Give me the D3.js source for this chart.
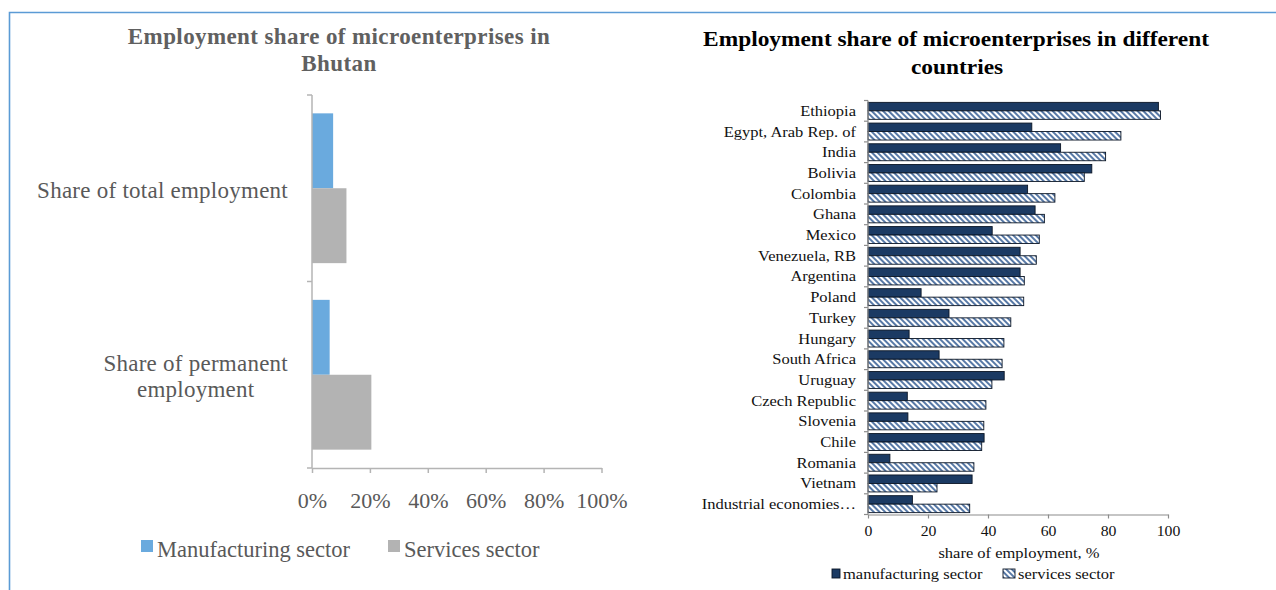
<!DOCTYPE html>
<html>
<head>
<meta charset="utf-8">
<script src="https://cdn.jsdelivr.net/npm/d3@7"></script>
<style>
  html, body { margin: 0; padding: 0; background: #fff; }
  svg { display: block; }
</style>
</head>
<body>
<svg id="chart" width="1276" height="590"></svg>
<script>
// ---- Bhutan: share of employment in microenterprises ----
const bhutanCategories = ["Share of total employment", "Share of permanent employment"];
const bhutanSeries = ["Manufacturing sector", "Services sector"];
const bhutanManufacturing = [0.073, 0.061];
const bhutanServices = [0.119, 0.205];
const bhutanTicks = [0, 0.2, 0.4, 0.6, 0.8, 1];

// ---- Cross-country comparison (share of employment, %) ----
const countries = [
  "Ethiopia", "Egypt, Arab Rep. of", "India", "Bolivia", "Colombia", "Ghana",
  "Mexico", "Venezuela, RB", "Argentina", "Poland", "Turkey", "Hungary",
  "South Africa", "Uruguay", "Czech Republic", "Slovenia", "Chile", "Romania",
  "Vietnam", "Industrial economies…"
];
const manufacturingShare = [96.8, 54.6, 64.2, 74.6, 53.2, 55.7, 41.4, 50.7, 50.7, 17.7,
                            27.0, 13.7, 23.7, 45.4, 13.1, 13.3, 38.7, 7.3, 34.7, 14.8];
const servicesShare = [97.5, 84.3, 79.2, 72.1, 62.3, 58.8, 57.1, 56.1, 52.1, 51.9,
                       47.6, 45.3, 44.7, 41.3, 39.3, 38.6, 37.9, 35.3, 23.0, 33.9];
const countrySeries = ["manufacturing sector", "services sector"];
const countryTicks = [0, 20, 40, 60, 80, 100];

const svg = d3.select("#chart");
const serif = "'Liberation Serif', 'Times New Roman', serif";

// hatch fill for the services series
const defs = svg.append("defs");
const hatch = defs.append("pattern")
  .attr("id", "hatch")
  .attr("patternUnits", "userSpaceOnUse")
  .attr("width", 4).attr("height", 4)
  .attr("patternTransform", "rotate(-45)");
hatch.append("rect").attr("width", 4).attr("height", 4).attr("fill", "#ffffff");
hatch.append("line").attr("x1", 1).attr("y1", -1).attr("x2", 1).attr("y2", 5)
  .attr("stroke", "#4f72a2").attr("stroke-width", 1.9);

// frame lines
svg.append("path")
  .attr("d", "M9.5,590 V12.5 H1276")
  .attr("fill", "none").attr("stroke", "#5b9bd5").attr("stroke-width", 1.6);

// =================== Left chart ===================
(function () {
  const grey = "#595959";
  const axisCol = "#b4b4b4";
  const x = d3.scaleLinear().domain([0, 1]).range([312, 601.5]);
  const y = d3.scaleBand().domain(bhutanCategories).range([95, 468]).padding(0);
  const ys = d3.scaleBand().domain(bhutanSeries).range([0, y.bandwidth()])
    .paddingInner(0).paddingOuter(0.245);
  const color = d3.scaleOrdinal().domain(bhutanSeries).range(["#6aaade", "#b3b3b3"]);

  const g = svg.append("g");

  // title
  const title = g.append("text")
    .attr("text-anchor", "middle")
    .attr("font-family", serif).attr("font-weight", "bold")
    .attr("font-size", 23).attr("letter-spacing", 0.4)
    .attr("fill", "#606060");
  title.append("tspan").attr("x", 339).attr("y", 44).text("Employment share of microenterprises in");
  title.append("tspan").attr("x", 339).attr("y", 71).text("Bhutan");

  // bars
  const rows = bhutanCategories.map((c, i) => ({
    category: c,
    values: [
      { series: bhutanSeries[0], value: bhutanManufacturing[i] },
      { series: bhutanSeries[1], value: bhutanServices[i] }
    ]
  }));
  const grp = g.selectAll("g.cat").data(rows).join("g")
    .attr("class", "cat")
    .attr("transform", d => `translate(0,${y(d.category)})`);
  grp.selectAll("rect").data(d => d.values).join("rect")
    .attr("x", x(0))
    .attr("y", d => ys(d.series))
    .attr("width", d => x(d.value) - x(0))
    .attr("height", ys.bandwidth())
    .attr("fill", d => color(d.series));

  // x axis
  const xAxis = g.append("g")
    .attr("transform", `translate(0,${y.range()[1]})`)
    .call(d3.axisBottom(x).tickValues(bhutanTicks).tickFormat(d3.format(".0%")).tickSize(5).tickSizeOuter(0));
  xAxis.select(".domain").attr("stroke", axisCol).attr("stroke-width", 1.5);
  xAxis.selectAll(".tick line").attr("stroke", axisCol).attr("stroke-width", 1.5);
  xAxis.selectAll(".tick text")
    .attr("y", 40).attr("dy", 0)
    .attr("font-family", serif).attr("font-size", 22).attr("fill", grey);

  // y axis line with ticks at category boundaries
  const yAxis = g.append("g");
  yAxis.append("line")
    .attr("x1", x(0)).attr("x2", x(0))
    .attr("y1", y.range()[0]).attr("y2", y.range()[1])
    .attr("stroke", axisCol).attr("stroke-width", 1.5);
  const bounds = bhutanCategories.map(c => y(c)).concat([y.range()[1]]);
  yAxis.selectAll("line.tick").data(bounds).join("line")
    .attr("class", "tick")
    .attr("x1", x(0) - 5).attr("x2", x(0))
    .attr("y1", d => d).attr("y2", d => d)
    .attr("stroke", axisCol).attr("stroke-width", 1.5);

  // category labels, wrapped and centred as a block, right edge near the axis
  const labelRight = 288, maxW = 255, lineH = 26;
  bhutanCategories.forEach(c => {
    const t = g.append("text")
      .attr("font-family", serif).attr("font-size", 23).attr("fill", grey)
      .attr("text-anchor", "middle").attr("letter-spacing", 0.25);
    const words = c.split(" ");
    const lines = [];
    let cur = [];
    const probe = g.append("text").attr("font-family", serif).attr("font-size", 23)
      .attr("letter-spacing", 0.25);
    words.forEach(w => {
      const test = cur.concat([w]).join(" ");
      probe.text(test);
      if (probe.node().getComputedTextLength() > maxW && cur.length) {
        lines.push(cur.join(" "));
        cur = [w];
      } else {
        cur.push(w);
      }
    });
    lines.push(cur.join(" "));
    const widths = lines.map(l => { probe.text(l); return probe.node().getComputedTextLength(); });
    probe.remove();
    const blockW = d3.max(widths);
    const cx = labelRight - blockW / 2;
    const cy = y(c) + y.bandwidth() / 2 + 2;
    const y0 = cy - (lines.length - 1) * lineH / 2;
    lines.forEach((l, i) => {
      t.append("tspan").attr("x", cx).attr("y", y0 + i * lineH).attr("dy", "0.33em").text(l);
    });
  });

  // legend
  const leg = g.append("g");
  const legX = [141, 388];
  bhutanSeries.forEach((s, i) => {
    leg.append("rect").attr("x", legX[i]).attr("y", 540).attr("width", 12).attr("height", 12)
      .attr("fill", color(s));
    leg.append("text").attr("x", legX[i] + 16).attr("y", 557)
      .attr("font-family", serif).attr("font-size", 22.5).attr("fill", grey).text(s);
  });
})();

// =================== Right chart ===================
(function () {
  const ink = "#111111";
  const axisCol = "#8c8c8c";
  const dark = "#1b3a63";
  const sx = 1.1; // horizontal text stretch
  const x = d3.scaleLinear().domain([0, 100]).range([868, 1168]);
  const y = d3.scaleBand().domain(countries).range([100.5, 514.5]).padding(0);
  const ys = d3.scaleBand().domain(countrySeries).range([0, y.bandwidth()])
    .paddingInner(0).paddingOuter(0.22);
  const fill = d3.scaleOrdinal().domain(countrySeries).range([dark, "url(#hatch)"]);

  const g = svg.append("g");

  const stretchedText = (parent, tx, ty, str, opts) => {
    const gg = parent.append("g").attr("transform", `translate(${tx},${ty}) scale(${opts.sx || sx},1)`);
    return gg.append("text")
      .attr("font-family", serif)
      .attr("font-size", opts.size)
      .attr("font-weight", opts.weight || "normal")
      .attr("text-anchor", opts.anchor || "start")
      .attr("fill", opts.fill || ink)
      .text(str);
  };

  // title
  stretchedText(g, 956, 46, "Employment share of microenterprises in different",
    { size: 20, weight: "bold", anchor: "middle", fill: "#000", sx: 1.17 });
  stretchedText(g, 957, 74, "countries",
    { size: 20, weight: "bold", anchor: "middle", fill: "#000", sx: 1.17 });

  // bars
  const rows = countries.map((c, i) => ({
    country: c,
    values: [
      { series: countrySeries[0], value: manufacturingShare[i] },
      { series: countrySeries[1], value: servicesShare[i] }
    ]
  }));
  const grp = g.selectAll("g.country").data(rows).join("g")
    .attr("class", "country")
    .attr("transform", d => `translate(0,${y(d.country)})`);
  grp.selectAll("rect").data(d => d.values).join("rect")
    .attr("x", x(0))
    .attr("y", d => ys(d.series))
    .attr("width", d => x(d.value) - x(0))
    .attr("height", ys.bandwidth())
    .attr("fill", d => fill(d.series))
    .attr("stroke", "#0b1626").attr("stroke-width", 0.9);

  // x axis
  const xAxis = g.append("g")
    .attr("transform", `translate(0,${y.range()[1]})`)
    .call(d3.axisBottom(x).tickValues(countryTicks).tickSize(4).tickSizeOuter(0));
  xAxis.select(".domain").attr("stroke", axisCol).attr("stroke-width", 1.2);
  xAxis.selectAll(".tick line").attr("stroke", axisCol).attr("stroke-width", 1.2);
  xAxis.selectAll(".tick text")
    .attr("y", 21.5).attr("dy", 0)
    .attr("transform", `scale(1.05,1)`)
    .attr("font-family", serif).attr("font-size", 15).attr("fill", ink);

  // y axis line and ticks between countries
  g.append("line")
    .attr("x1", x(0)).attr("x2", x(0))
    .attr("y1", y.range()[0]).attr("y2", y.range()[1])
    .attr("stroke", axisCol).attr("stroke-width", 1.2);
  const bounds = countries.map(c => y(c)).concat([y.range()[1]]);
  g.selectAll("line.ytick").data(bounds).join("line")
    .attr("class", "ytick")
    .attr("x1", x(0) - 4).attr("x2", x(0))
    .attr("y1", d => d).attr("y2", d => d)
    .attr("stroke", axisCol).attr("stroke-width", 1.2);

  // country labels
  countries.forEach(c => {
    stretchedText(g, 856, y(c) + y.bandwidth() / 2 + 5, c, { size: 15, anchor: "end" });
  });

  // axis title
  stretchedText(g, 1019, 557.5, "share of employment, %", { size: 15, anchor: "middle" });

  // legend
  const legX = [832, 1003];
  const legW = [8, 12];
  countrySeries.forEach((s, i) => {
    g.append("rect").attr("x", legX[i]).attr("y", 569).attr("width", legW[i]).attr("height", 9)
      .attr("fill", fill(s)).attr("stroke", "#0b1626").attr("stroke-width", 0.9);
    stretchedText(g, legX[i] + legW[i] + 3, 578.5, s, { size: 15 });
  });
})();
</script>
</body>
</html>
